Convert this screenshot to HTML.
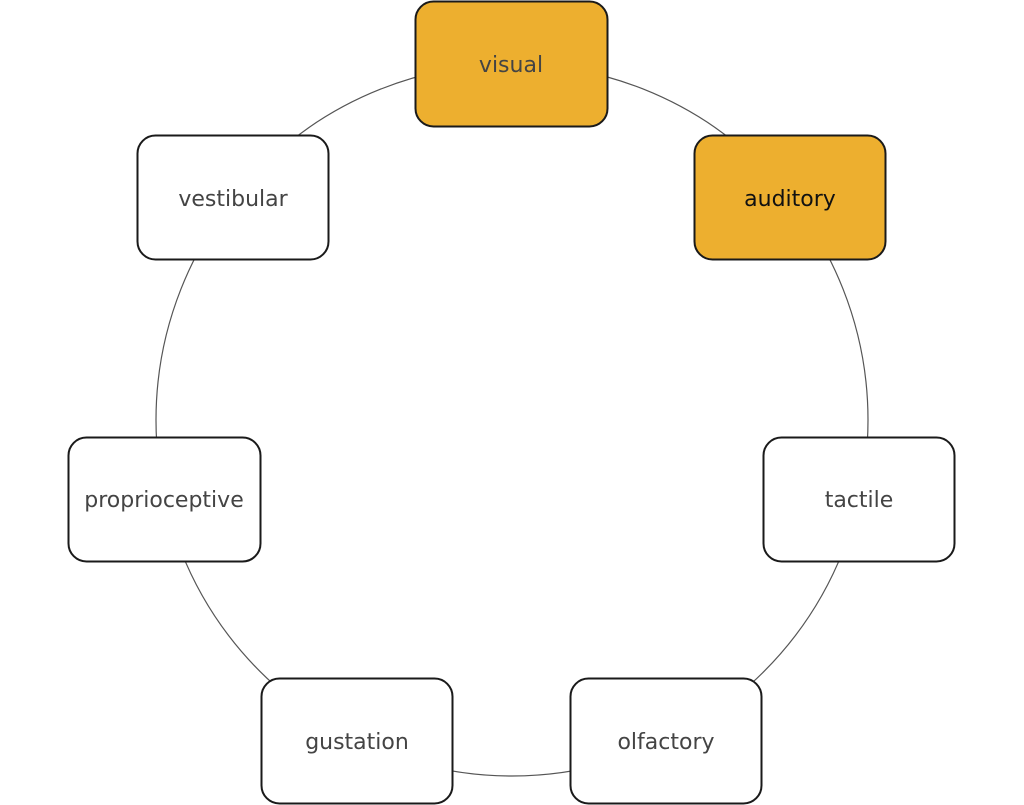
<!DOCTYPE html>
<html><head><meta charset="utf-8"><style>
html,body{margin:0;padding:0;background:#fff;width:1024px;height:805px;overflow:hidden}
</style></head><body>
<svg width="1024" height="805" xmlns="http://www.w3.org/2000/svg" style="display:block">
<circle cx="512" cy="420" r="356" fill="none" stroke="#555" stroke-width="1.2"/>
<g stroke="#1a1a1a" stroke-width="2">
<rect x="415.5" y="1.5" width="192" height="125" rx="18" fill="#EDAF2F"/>
<rect x="694.5" y="135.5" width="191" height="124" rx="18" fill="#EDAF2F"/>
<rect x="763.5" y="437.5" width="191" height="124" rx="18" fill="#fff"/>
<rect x="570.5" y="678.5" width="191" height="125" rx="18" fill="#fff"/>
<rect x="261.5" y="678.5" width="191" height="125" rx="18" fill="#fff"/>
<rect x="68.5" y="437.5" width="192" height="124" rx="18" fill="#fff"/>
<rect x="137.5" y="135.5" width="191" height="124" rx="18" fill="#fff"/>
</g>
<g font-family="DejaVu Sans, Liberation Sans, sans-serif" font-size="22" text-anchor="middle" fill="#444">
<text x="511" y="72">visual</text>
<text x="790" y="206" fill="#111">auditory</text>
<text x="859" y="507">tactile</text>
<text x="666" y="749">olfactory</text>
<text x="357" y="749">gustation</text>
<text x="164" y="507">proprioceptive</text>
<text x="233" y="206">vestibular</text>
</g>
</svg>
</body></html>
